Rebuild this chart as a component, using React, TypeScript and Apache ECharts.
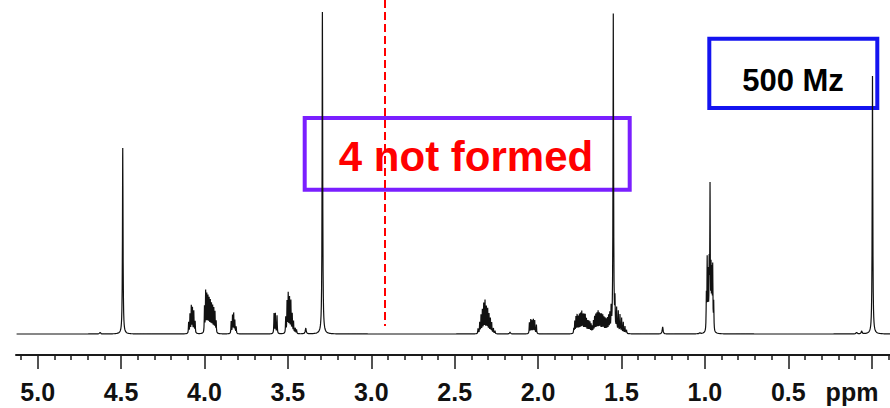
import React, { useEffect, useRef } from "react";
import * as echarts from "echarts";

// Axis ticks / labels (ppm)
const majorTicks = [0, 0.5, 1.0, 1.5, 2.0, 2.5, 3.0, 3.5, 4.0, 4.5, 5.0];
const tickLabels = [0.5, 1.0, 1.5, 2.0, 2.5, 3.0, 3.5, 4.0, 4.5, 5.0];
const minorTicks = [
  -0.1, 0.1, 0.2, 0.3, 0.4, 0.6, 0.7, 0.8, 0.9, 1.1, 1.2, 1.3, 1.4, 1.6, 1.7, 1.8, 1.9,
  2.1, 2.2, 2.3, 2.4, 2.6, 2.7, 2.8, 2.9, 3.1, 3.2, 3.3, 3.4, 3.6, 3.7, 3.8, 3.9,
  4.1, 4.2, 4.3, 4.4, 4.6, 4.7, 4.8, 4.9, 5.1,
];

// Sharp singlets (ppm, intensity)
const singletPpm = [4.49, 3.293, 1.549, -0.005];
const singletHeight = [186, 322, 293, 258];

// Multiplet lines (ppm, intensity)
const multipletPpm = [
  // 4.08
  4.095, 4.087, 4.079, 4.072, 4.064, 4.056,
  // 3.97
  4.0, 3.993, 3.986, 3.979, 3.972, 3.965, 3.958, 3.951, 3.944, 3.937, 3.93,
  // 3.82
  3.84, 3.832, 3.825, 3.818, 3.81,
  // 3.57
  3.583, 3.575, 3.565,
  // 3.49
  3.513, 3.505, 3.498, 3.49, 3.482, 3.474, 3.466, 3.456, 3.448,
  // 2.32
  2.36, 2.35, 2.342, 2.334, 2.326, 2.318, 2.31, 2.302, 2.294, 2.286, 2.278, 2.268, 2.258,
  // 2.03
  2.052, 2.044, 2.036, 2.028, 2.02, 2.01,
  // 1.75
  1.786, 1.78, 1.773, 1.766, 1.759, 1.752, 1.745, 1.738, 1.731, 1.724, 1.717, 1.71,
  1.703, 1.696, 1.689, 1.682,
  // 1.63
  1.675, 1.668, 1.661, 1.654, 1.647, 1.64, 1.633, 1.626, 1.619, 1.612, 1.605, 1.598,
  1.591, 1.584, 1.577, 1.57,
  // 1.52
  1.562, 1.549, 1.539, 1.529, 1.519, 1.509, 1.499, 1.489, 1.479, 1.47,
  // 0.97
  0.991, 0.986, 0.98, 0.974, 0.969, 0.963, 0.958, 0.953, 0.947,
];
const multipletHeight = [
  11, 19, 27, 25, 22, 12,
  26, 41, 37, 35, 33, 31, 28, 26, 24, 21, 12,
  12, 18, 20, 13, 7,
  20, 20, 18,
  16, 31, 39, 35, 32, 19, 12, 6, 4,
  5, 11, 18, 23, 29, 32, 26, 24, 19, 15, 11, 6, 3,
  11, 14, 13, 14, 13, 9,
  5, 12, 16, 18, 16, 18, 19, 21, 18, 18, 18, 14, 12, 12, 11, 9,
  7, 12, 16, 18, 19, 21, 19, 18, 18, 17, 15, 14, 13, 14, 16, 18,
  22, 26, 28, 23, 21, 18, 15, 11, 7, 4,
  35, 70, 55, 62, 140, 58, 55, 62, 28,
];

// Small impurity bumps
const minorPpm = [4.626, 3.393, 2.168, 1.253, 1.03, 0.09, 0.06];
const minorHeight = [2, 6, 2, 7, 1, 2, 3];

const AXIS_MIN = -0.11;
const AXIS_MAX = 5.13;

function buildSpectrum(): number[][] {
  const groups: [number[], number[], number][] = [
    [singletPpm, singletHeight, 0.002],
    [multipletPpm, multipletHeight, 0.0015],
    [minorPpm, minorHeight, 0.003],
  ];
  const xs: number[] = [];
  for (let x = AXIS_MIN; x <= AXIS_MAX; x += 0.0015) xs.push(x);
  groups.forEach(([p]) => p.forEach((v) => xs.push(v)));
  xs.sort((a, b) => a - b);
  return xs.map((x) => {
    let y = 0;
    for (const [p, h, g] of groups) {
      for (let i = 0; i < p.length; i++) {
        const d = x - p[i];
        y += (h[i] * g * g) / (d * d + g * g);
      }
    }
    return [x, y];
  });
}

export default function App() {
  const ref = useRef<HTMLDivElement>(null);
  useEffect(() => {
    if (!ref.current) return;
    const chart = echarts.init(ref.current, undefined, { renderer: "svg" });
    const font = "'Liberation Sans', Arial, sans-serif";
    chart.setOption({
      animation: false,
      backgroundColor: "#ffffff",
      grid: { left: 16, right: 0, top: 0, bottom: 53 },
      xAxis: [
        {
          type: "value",
          inverse: true,
          min: AXIS_MIN,
          max: AXIS_MAX,
          position: "bottom",
          axisLine: { show: true, onZero: false, lineStyle: { color: "#1a1a1a", width: 2 } },
          axisTick: {
            show: true,
            customValues: minorTicks,
            length: 5,
            lineStyle: { color: "#1a1a1a", width: 1.5 },
          },
          axisLabel: {
            show: true,
            customValues: tickLabels,
            formatter: (v: number) => v.toFixed(1),
            margin: 26,
            fontSize: 25,
            lineHeight: 22,
            fontWeight: "bold",
            fontFamily: font,
            color: "#111",
          },
          splitLine: { show: false },
        },
        {
          type: "value",
          inverse: true,
          min: AXIS_MIN,
          max: AXIS_MAX,
          position: "bottom",
          axisLine: { show: false, onZero: false },
          axisTick: {
            show: true,
            customValues: majorTicks,
            length: 14,
            lineStyle: { color: "#1a1a1a", width: 1.5 },
          },
          axisLabel: { show: false },
          splitLine: { show: false },
        },
      ],
      yAxis: {
        type: "value",
        min: -21,
        max: 334,
        show: false,
        splitLine: { show: false },
      },
      series: [
        {
          type: "line",
          xAxisIndex: 0,
          data: buildSpectrum(),
          showSymbol: false,
          symbol: "none",
          lineStyle: { color: "#111", width: 1.2 },
          markLine: {
            silent: true,
            symbol: "none",
            label: { show: false },
            lineStyle: { color: "#ff0000", width: 2, type: [8, 4] },
            data: [[{ coord: [2.918, 334] }, { coord: [2.918, 8] }]],
          },
          z: 2,
        },
      ],
      graphic: [
        {
          type: "rect",
          shape: { x: 304.7, y: 118, width: 325, height: 71.7 },
          style: { fill: "none", stroke: "#7a1fff", lineWidth: 4 },
          z: 1,
        },
        {
          type: "text",
          x: 466,
          y: 156,
          style: {
            text: "4 not formed",
            fill: "#ff0000",
            font: `bold 42px ${font}`,
            textAlign: "center",
            textVerticalAlign: "middle",
          },
        },
        {
          type: "rect",
          shape: { x: 709.3, y: 38.7, width: 168, height: 69.3 },
          style: { fill: "none", stroke: "#1414f0", lineWidth: 4 },
          z: 1,
        },
        {
          type: "text",
          x: 793,
          y: 80,
          style: {
            text: "500 Mz",
            fill: "#000",
            font: `bold 31px ${font}`,
            textAlign: "center",
            textVerticalAlign: "middle",
          },
        },
        {
          type: "text",
          x: 852,
          y: 392,
          style: {
            text: "ppm",
            fill: "#111",
            font: `bold 25px ${font}`,
            lineHeight: 22,
            textAlign: "center",
            textVerticalAlign: "middle",
          },
        },
      ],
    });
    return () => chart.dispose();
  }, []);
  return (
    <div
      ref={ref}
      style={{ position: "fixed", left: 0, top: 0, width: 890, height: 408, background: "#fff" }}
    />
  );
}
